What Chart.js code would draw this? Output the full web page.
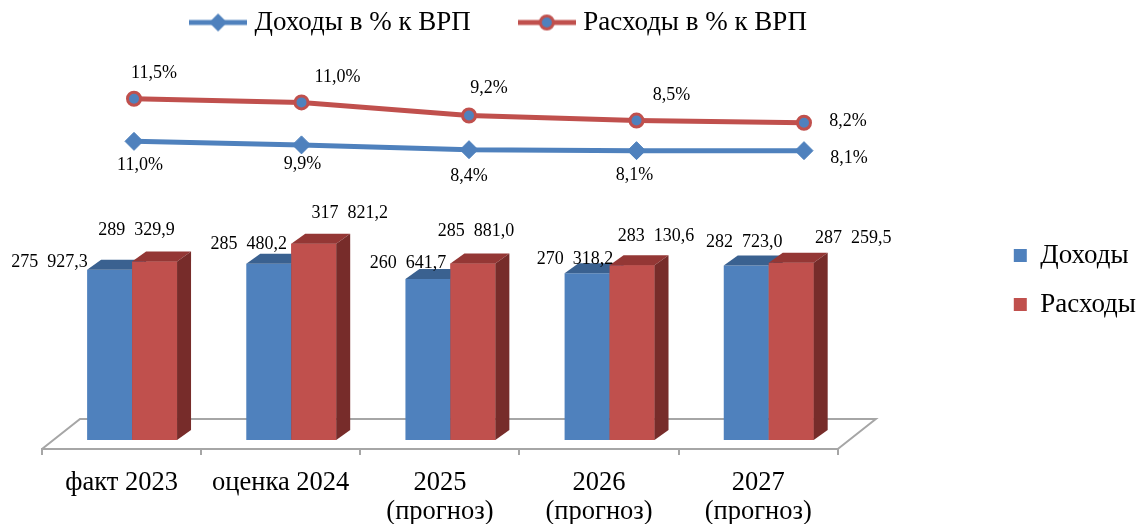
<!DOCTYPE html>
<html>
<head>
<meta charset="utf-8">
<script src="https://cdn.jsdelivr.net/npm/chart.js@4.4.1/dist/chart.umd.min.js"></script>
<style>
  body { margin: 0; background: #fff; }
  #lineChart { position: absolute; left: 0; top: 0; }
  #barChart { position: absolute; left: 0; top: 200px; }
</style>
</head>
<body>
<canvas id="lineChart" width="1137" height="200"></canvas>
<canvas id="barChart" width="1137" height="324"></canvas>
<script>
// data
var categories = ["факт 2023", "оценка 2024", ["2025", "(прогноз)"], ["2026", "(прогноз)"], ["2027", "(прогноз)"]];
var incomePct = [11.0, 9.9, 8.4, 8.1, 8.1];
var spendPct = [11.5, 11.0, 9.2, 8.5, 8.2];
var income = [275927.3, 285480.2, 260641.7, 270318.2, 282723.0];
var spend = [289329.9, 317821.2, 285881.0, 283130.6, 287259.5];

var BLUE = "#4F81BD", RED = "#C0504D";
var SERIF = "'Liberation Serif', 'Times New Roman', serif";
Chart.defaults.font.family = SERIF;
Chart.defaults.color = "#000";

const fmtPct = (v) => v.toFixed(1).replace(".", ",") + "%";
const fmtNum = (v) => {
    let parts = v.toFixed(1).split(".");
    return parts[0].replace(/\B(?=(\d{3})+(?!\d))/g, "  ") + "," + parts[1];
};

// legend icons: line with marker in the middle
const makeIcon = (diamond) => {
    const c = document.createElement("canvas");
    c.width = 58; c.height = 22;
    const g = c.getContext("2d");
    g.strokeStyle = diamond ? BLUE : RED;
    g.lineWidth = 5;
    g.beginPath(); g.moveTo(0, 11); g.lineTo(58, 11); g.stroke();
    g.fillStyle = BLUE;
    g.beginPath();
    if (diamond) {
        g.moveTo(29, 2); g.lineTo(38, 11); g.lineTo(29, 20); g.lineTo(20, 11); g.closePath();
        g.fill();
    } else {
        g.arc(29, 11, 6.5, 0, Math.PI * 2);
        g.fill();
        g.lineWidth = 3; g.strokeStyle = RED; g.stroke();
    }
    return c;
};
var legendIcons = [makeIcon(true), makeIcon(false)];

// value labels for the lines
const pctLabels = {
    id: "pctLabels",
    afterDatasetsDraw(chart, args, opts) {
        const ctx = chart.ctx;
        ctx.save();
        ctx.font = "18px " + SERIF;
        ctx.fillStyle = "#000";
        ctx.textAlign = "center";
        ctx.textBaseline = "middle";
        chart.data.datasets.forEach((ds, di) => {
            chart.getDatasetMeta(di).data.forEach((pt, i) => {
                const s = opts.shift[di][i];
                ctx.fillText(fmtPct(ds.data[i]), pt.x + s[0], pt.y + s[1]);
            });
        });
        ctx.restore();
    }
};

new Chart("lineChart", {
    type: "line",
    data: {
        labels: categories,
        datasets: [{
            label: "Доходы в % к ВРП",
            data: incomePct,
            yAxisID: "yInc",
            borderColor: BLUE,
            backgroundColor: BLUE,
            borderWidth: 5,
            pointStyle: "rectRot",
            pointRadius: 9,
            pointBorderWidth: 1,
            pointBackgroundColor: BLUE,
            pointBorderColor: BLUE,
            clip: false
        }, {
            label: "Расходы в % к ВРП",
            data: spendPct,
            yAxisID: "ySp",
            borderColor: RED,
            backgroundColor: RED,
            borderWidth: 5,
            pointStyle: "circle",
            pointRadius: 6.5,
            pointBorderWidth: 3,
            pointBackgroundColor: BLUE,
            pointBorderColor: RED,
            clip: false
        }]
    },
    plugins: [pctLabels],
    options: {
        responsive: false,
        animation: false,
        events: [],
        layout: { padding: { left: 0, right: 135, top: -44, bottom: 10 } },
        scales: {
            x: { display: false },
            yInc: {
                position: "left", min: -4.2, max: 40.8,
                grid: { display: false }, border: { display: false }, ticks: { display: false },
                afterFit: (s) => { s.width = 134; }
            },
            ySp: {
                position: "right", min: -1.05, max: 18.76,
                grid: { display: false }, border: { display: false }, ticks: { display: false },
                afterFit: (s) => { s.width = 198; }
            }
        },
        plugins: {
            tooltip: { enabled: false },
            legend: {
                position: "top",
                labels: {
                    font: { size: 27 },
                    usePointStyle: true,
                    pointStyleWidth: 46,
                    padding: 53,
                    generateLabels: (chart) => Chart.defaults.plugins.legend.labels.generateLabels(chart)
                        .map((it, i) => Object.assign(it, { pointStyle: legendIcons[i] }))
                }
            },
            pctLabels: {
                shift: [
                    [[6, 24], [1, 19], [0, 27], [-2, 25], [45, 8]],
                    [[20, -26], [36, -25], [20, -27], [35, -25], [44, -1]]
                ]
            }
        }
    }
});

// 3D look for the columns: floor, top and side faces, labels
const bars3d = {
    id: "bars3d",
    beforeDatasetsDraw(chart, args, o) {
        const ctx = chart.ctx, a = chart.chartArea;
        ctx.save();
        ctx.strokeStyle = "#A6A6A6";
        ctx.lineWidth = 2;
        ctx.beginPath();
        ctx.moveTo(a.left, a.bottom);
        ctx.lineTo(a.left + o.floor[0], a.bottom + o.floor[1]);
        ctx.lineTo(a.right + o.floor[0], a.bottom + o.floor[1]);
        ctx.lineTo(a.right, a.bottom);
        ctx.stroke();
        ctx.restore();
        ctx.save();
        ctx.translate(o.shift[0], o.shift[1]);
    },
    afterDatasetsDraw(chart, args, o) {
        const ctx = chart.ctx;
        const dx = o.depth[0], dy = o.depth[1];
        chart.data.datasets.forEach((ds, di) => {
            chart.getDatasetMeta(di).data.forEach((b) => {
                if (di > 0) b.draw(ctx);
                const l = b.x - b.width / 2, r = b.x + b.width / 2;
                ctx.fillStyle = ds.topColor;
                ctx.beginPath();
                ctx.moveTo(l, b.y); ctx.lineTo(r, b.y);
                ctx.lineTo(r + dx, b.y + dy); ctx.lineTo(l + dx, b.y + dy);
                ctx.closePath(); ctx.fill();
                ctx.fillStyle = ds.sideColor;
                ctx.beginPath();
                ctx.moveTo(r, b.y); ctx.lineTo(r + dx, b.y + dy);
                ctx.lineTo(r + dx, b.base + dy); ctx.lineTo(r, b.base);
                ctx.closePath(); ctx.fill();
            });
        });
        ctx.font = "18px " + SERIF;
        ctx.fillStyle = "#000";
        ctx.textAlign = "center";
        ctx.textBaseline = "middle";
        chart.data.datasets.forEach((ds, di) => {
            chart.getDatasetMeta(di).data.forEach((b, i) => {
                const s = o.labelShift[di][i];
                ctx.fillText(fmtNum(ds.data[i]), b.x + s[0], b.y + s[1]);
            });
        });
        ctx.restore();
    }
};

new Chart("barChart", {
    type: "bar",
    data: {
        labels: categories,
        datasets: [{
            label: "Доходы",
            data: income,
            backgroundColor: BLUE,
            topColor: "#3A6190",
            sideColor: "#2F4E75",
            borderWidth: 0
        }, {
            label: "Расходы",
            data: spend,
            backgroundColor: RED,
            topColor: "#943735",
            sideColor: "#772C2A",
            borderWidth: 0
        }]
    },
    plugins: [bars3d],
    options: {
        responsive: false,
        animation: false,
        events: [],
        categoryPercentage: 0.565,
        barPercentage: 1,
        layout: { padding: { left: 42, right: -9, top: 20, bottom: 0 } },
        scales: {
            x: {
                grid: { display: true, drawOnChartArea: false, tickLength: 6, color: "#A6A6A6", lineWidth: 2 },
                border: { display: true, color: "#A6A6A6", width: 2 },
                ticks: { font: { size: 26.5, lineHeight: 1.1 }, padding: 13, maxRotation: 0, autoSkip: false, color: "#000" },
                afterFit: (s) => { s.height = 75; }
            },
            y: { display: false, min: 0, max: 371000 },
            yPad: {
                position: "right",
                grid: { display: false }, border: { display: false }, ticks: { display: false },
                afterFit: (s) => { s.width = 154; }
            }
        },
        plugins: {
            tooltip: { enabled: false },
            legend: {
                position: "right",
                align: "start",
                labels: { font: { size: 27 }, boxWidth: 13, boxHeight: 13, padding: 22 }
            },
            bars3d: {
                floor: [38, -30],
                shift: [10.5, -9],
                depth: [14, -10],
                labelShift: [
                    [[-60, -7], [-20, -20], [-20, -16], [-12, -14], [-2, -23]],
                    [[-18, -31], [36, -31], [3, -32], [24, -29], [62, -24]]
                ]
            }
        }
    }
});
</script>
</body>
</html>
